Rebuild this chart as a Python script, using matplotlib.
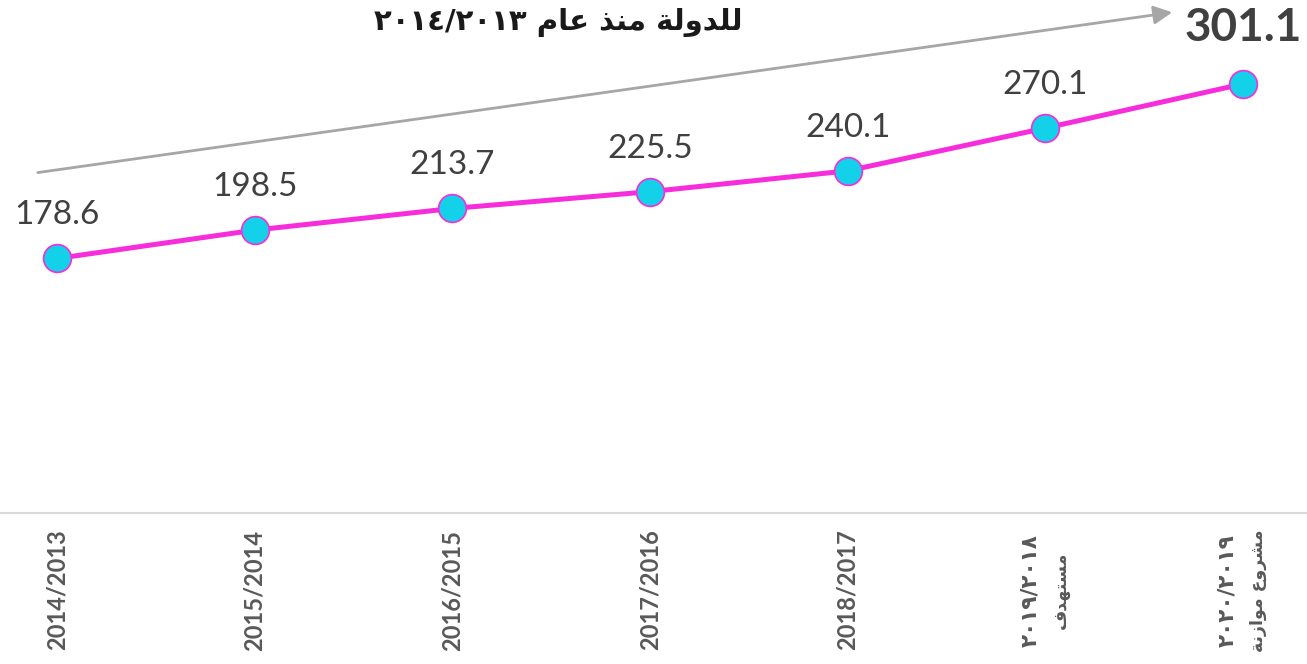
import matplotlib
matplotlib.use("Agg")
import matplotlib.pyplot as plt

# ---------------------------------------------------------------------
# data
# ---------------------------------------------------------------------
years = ["2014/2013", "2015/2014", "2016/2015", "2017/2016", "2018/2017",
         "٢٠١٩/٢٠١٨\nمستهدف", "٢٠٢٠/٢٠١٩\nمشروع موازنة"]
values = [178.6, 198.5, 213.7, 225.5, 240.1, 270.1, 301.1]
title_words = "للدولة منذ عام"
title_years = "٢٠١٤/٢٠١٣"

LINE_COLOR = "#F72CDB"
MARKER_COLOR = "#13D1E8"
TEXT_COLOR = "#404040"
TICK_COLOR = "#595959"
ARROW_COLOR = "#A6A6A6"

# matplotlib has no arabic shaping, so pick presentation forms by hand
# (isolated, final, initial, medial)
FORMS = {
    "ا": (0xFE8D, 0xFE8E, None, None),
    "د": (0xFEA9, 0xFEAA, None, None),
    "ذ": (0xFEAB, 0xFEAC, None, None),
    "ر": (0xFEAD, 0xFEAE, None, None),
    "ز": (0xFEAF, 0xFEB0, None, None),
    "و": (0xFEED, 0xFEEE, None, None),
    "ة": (0xFE93, 0xFE94, None, None),
    "ت": (0xFE95, 0xFE96, 0xFE97, 0xFE98),
    "س": (0xFEB1, 0xFEB2, 0xFEB3, 0xFEB4),
    "ش": (0xFEB5, 0xFEB6, 0xFEB7, 0xFEB8),
    "ع": (0xFEC9, 0xFECA, 0xFECB, 0xFECC),
    "ف": (0xFED1, 0xFED2, 0xFED3, 0xFED4),
    "ل": (0xFEDD, 0xFEDE, 0xFEDF, 0xFEE0),
    "م": (0xFEE1, 0xFEE2, 0xFEE3, 0xFEE4),
    "ن": (0xFEE5, 0xFEE6, 0xFEE7, 0xFEE8),
    "ه": (0xFEE9, 0xFEEA, 0xFEEB, 0xFEEC),
    "ي": (0xFEF1, 0xFEF2, 0xFEF3, 0xFEF4),
}


def shape(text):
    """Join arabic letters and return them in visual (left-to-right) order."""
    out = []
    for i, ch in enumerate(text):
        if ch not in FORMS:
            out.append(ch)
            continue
        prev = text[i - 1] if i > 0 else ""
        nxt = text[i + 1] if i + 1 < len(text) else ""
        join_prev = prev in FORMS and FORMS[prev][2] is not None
        join_next = FORMS[ch][2] is not None and nxt in FORMS
        iso, fin, ini, med = FORMS[ch]
        if join_prev and join_next:
            code = med
        elif join_prev:
            code = fin
        elif join_next:
            code = ini
        else:
            code = iso
        out.append(chr(code))
    return "".join(reversed(out))


fig = plt.figure(figsize=(13.07, 6.64), dpi=100)
ax = fig.add_axes([0, 0.2274, 1, 0.7726])

x = list(range(len(values)))
ax.plot(x, values, color=LINE_COLOR, lw=3.6, marker="o", markersize=20,
        markerfacecolor=MARKER_COLOR, markeredgecolor=LINE_COLOR,
        markeredgewidth=1.2, zorder=3, clip_on=False)

for i, v in enumerate(values):
    if i == len(values) - 1:
        ax.annotate(f"{v:.1f}", (i, v), xytext=(0, 40), textcoords="offset points",
                    ha="center", va="center", fontsize=33, fontweight="bold",
                    family="Lato", color=TEXT_COLOR)
    else:
        ax.annotate(f"{v:.1f}", (i, v), xytext=(0, 31), textcoords="offset points",
                    ha="center", va="center", fontsize=24, family="Lato",
                    color=TEXT_COLOR)

ax.set_ylim(0, 360)
ax.set_xlim(-0.288, 6.324)
ax.set_yticks([])
ax.set_xticks(x)
# latin labels go through the tick machinery, the two arabic ones are drawn
# line by line below so each line can be centred on its own
ax.set_xticklabels([s if "\n" not in s else "" for s in years], rotation=90,
                   va="top", ha="center", fontweight="bold", family="Lato",
                   fontsize=17, color=TICK_COLOR)
ax.tick_params(axis="x", length=0, pad=12)

for i, s in enumerate(years):
    if "\n" not in s:
        continue
    digits, words = s.split("\n")
    ax.annotate(digits, (i, 0), xycoords=("data", "axes fraction"),
                xytext=(-11, -56), textcoords="offset points", rotation=90,
                ha="center", va="center", fontsize=15.5, fontweight="bold",
                family=["DejaVu Sans"], color=TICK_COLOR, annotation_clip=False)
    ax.annotate(shape(words), (i, 0), xycoords=("data", "axes fraction"),
                xytext=(11, -56), textcoords="offset points", rotation=90,
                ha="center", va="center", fontsize=12.5, fontweight="bold",
                family=["DejaVu Sans"], color=TICK_COLOR, annotation_clip=False)

for side in ["top", "left", "right"]:
    ax.spines[side].set_visible(False)
ax.spines["bottom"].set_color("#D9D9D9")
ax.spines["bottom"].set_linewidth(1.5)
ax.patch.set_alpha(0)

# trend arrow and heading
ax.annotate("", xy=(0.899, 0.982), xytext=(0.0268, 0.7395),
            xycoords="figure fraction", textcoords="figure fraction",
            arrowprops=dict(arrowstyle="-|>", color=ARROW_COLOR, lw=2,
                            mutation_scale=28))
fig.text(0.427, 0.966, title_years + " " + shape(title_words), ha="center",
         va="center", fontsize=21, fontweight="bold", family=["DejaVu Sans"],
         color="#1a1a1a")

fig.savefig("out.png", dpi=100)
